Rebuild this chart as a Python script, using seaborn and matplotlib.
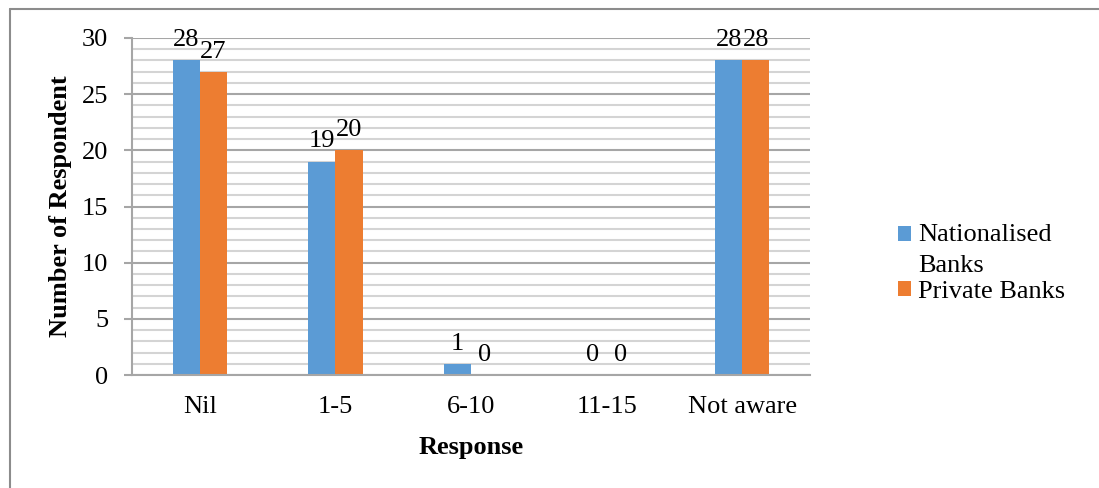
import matplotlib
matplotlib.use("Agg")
import matplotlib.pyplot as plt
from matplotlib.lines import Line2D
import seaborn as sns
import pandas as pd

# Survey responses by bank type
responses = ["Nil", "1-5", "6-10", "11-15", "Not aware"]
nationalised = [28, 19, 1, 0, 28]
private = [27, 20, 0, 0, 28]
series_names = ["Nationalised\nBanks", "Private Banks"]
y_ticks = [0, 5, 10, 15, 20, 25, 30]

df = pd.DataFrame({
    "Response": responses * 2,
    "Count": nationalised + private,
    "Bank": [series_names[0]] * len(responses) + [series_names[1]] * len(responses),
})

FS = 19

sns.set_theme(style="white")
plt.rcParams["font.family"] = ["Liberation Serif", "DejaVu Serif"]
plt.rcParams["text.color"] = "black"
plt.rcParams["axes.labelcolor"] = "black"
plt.rcParams["xtick.color"] = "black"
plt.rcParams["ytick.color"] = "black"

fig = plt.figure(figsize=(10.99, 4.88), dpi=100)
ax = fig.add_axes([132 / 1099, 1 - 375 / 488, (810 - 132) / 1099, (375 - 38) / 488])

palette = {series_names[0]: "#5B9BD5", series_names[1]: "#ED7D31"}
sns.barplot(data=df, x="Response", y="Count", hue="Bank", order=responses,
            hue_order=series_names, palette=palette, width=0.4, gap=0,
            saturation=1, edgecolor="none", ax=ax, legend=True, zorder=3)

# Value labels above each bar
for container in ax.containers:
    for bar in container:
        h = bar.get_height()
        ax.annotate(f"{int(h)}", (bar.get_x() + bar.get_width() / 2, h),
                    xytext=(0, 14.5), textcoords="offset points",
                    ha="center", va="center", fontsize=FS, color="black",
                    zorder=5)

ax.set_xlim(-0.5, len(responses) - 0.5)
ax.set_ylim(0, 30)
ax.set_yticks(y_ticks)

# Grid: light lines at every unit, darker at major steps
ax.grid(False)
for v in range(0, 31):
    major = v % 5 == 0
    ax.axhline(v, color="#a6a6a6" if major else "#d4d4d4", lw=1.5, zorder=1)

for side in ["top", "right"]:
    ax.spines[side].set_visible(False)
for side in ["left", "bottom"]:
    ax.spines[side].set_color("#a6a6a6")
    ax.spines[side].set_linewidth(1.5)
ax.spines["bottom"].set_zorder(4)

ax.tick_params(axis="y", which="major", direction="out", length=6, width=1.5,
               color="#a6a6a6", left=True, pad=11, labelsize=FS,
               labelcolor="black")
ax.tick_params(axis="x", length=0, pad=15, labelsize=FS, labelcolor="black")

ax.set_xlabel("Response", fontsize=FS, fontweight="bold", labelpad=13,
              color="black")
ax.set_ylabel("Number of Respondent", fontsize=FS, fontweight="bold",
              labelpad=7, color="black")

# Legend to the right of the plot
ax.get_legend().remove()
handles, labels = ax.get_legend_handles_labels()
leg = fig.legend(handles, labels, loc="upper left",
                 bbox_to_anchor=(898 / 1099, 1 - 224 / 488),
                 frameon=False, fontsize=FS, handlelength=0.5,
                 handleheight=0.5, handletextpad=0.25, labelspacing=0.15,
                 borderpad=0, borderaxespad=0)
for t in leg.get_texts():
    t.set_linespacing(1.55)
    t.set_color("black")
leg.legend_handles[0].set_y(leg.legend_handles[0].get_y() + 12)

# Outer chart frame
fig.add_artist(Line2D([10 / 1099, 1.0], [1 - 9 / 488, 1 - 9 / 488],
                      transform=fig.transFigure, color="#8c8c8c", lw=1.5))
fig.add_artist(Line2D([10 / 1099, 10 / 1099], [0, 1 - 9 / 488],
                      transform=fig.transFigure, color="#8c8c8c", lw=1.5))

fig.savefig("out.png", dpi=100, facecolor="white")
